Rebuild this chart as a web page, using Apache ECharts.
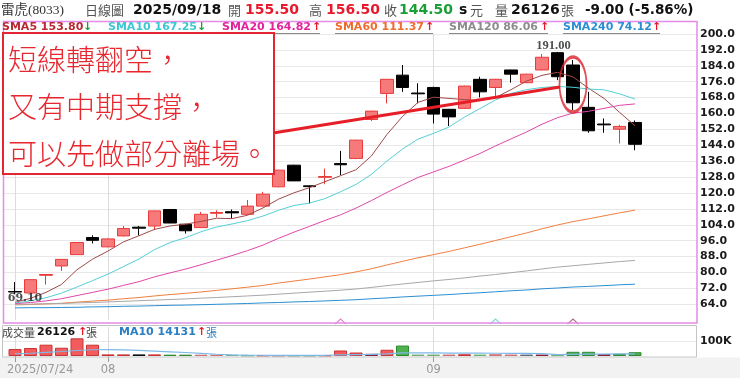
<!DOCTYPE html>
<html>
<head>
<meta charset="utf-8">
<script src="https://cdn.jsdelivr.net/npm/echarts@6.0.0/dist/echarts.min.js"></script>
<style>
  html, body { margin: 0; padding: 0; background: #fff; }
  #chart { width: 740px; height: 378px; }
</style>
</head>
<body>
<div id="chart"></div>
<script>
// trading days shown (last three are empty slots on the right)
const days = ['07/24','07/25','07/28','07/29','07/30','07/31','08/01','08/04','08/05','08/06','08/07','08/08',
  '08/11','08/12','08/13','08/14','08/15','08/18','08/19','08/20','08/21','08/22','08/25','08/26','08/27','08/28',
  '08/29','09/01','09/02','09/03','09/04','09/05','09/08','09/09','09/10','09/11','09/12','09/15','09/16','09/17',
  '09/18','09/19','09/22','09/23'];
const xTickIdx = [0, 6, 27];
const xTickText = ['2025/07/24', '08', '09'];

// daily prices
const open  = [70.4, 69.7, 78.6, 83.3, 89.0, 97.6, 92.9, 98.4, 102.8, 103.4, 111.7, 104.3, 102.6, 109.8, 110.6, 109.3,
  113.4, 123.1, 134.0, 123.6, 127.9, 134.8, 137.4, 157.0, 170.1, 179.3, 170.3, 173.1, 162.1, 162.6, 177.2, 173.1,
  181.9, 175.5, 181.9, 190.6, 184.4, 163.1, 154.7, 152.1, 155.5];
const close = [70.2, 76.4, 79.0, 86.6, 95.1, 96.2, 96.9, 102.1, 102.3, 111.0, 104.9, 101.0, 109.3, 110.2, 110.0, 113.4,
  119.4, 131.5, 126.1, 123.2, 128.3, 134.2, 146.6, 161.2, 177.2, 173.1, 169.9, 159.7, 158.3, 173.8, 170.9, 177.2,
  179.8, 179.8, 188.3, 178.5, 165.4, 151.3, 154.3, 153.5, 144.5];
const low   = [69.1, 69.5, 73.9, 80.8, 88.8, 94.6, 92.7, 98.2, 98.7, 101.3, 104.8, 99.6, 102.4, 107.7, 107.2, 109.0,
  113.2, 122.9, 126.0, 114.7, 124.4, 129.0, 137.0, 156.2, 165.1, 170.9, 165.1, 155.0, 153.7, 162.4, 168.1, 168.4,
  175.5, 175.3, 181.7, 176.8, 161.7, 150.3, 150.3, 144.9, 141.5];
const high  = [75.2, 76.6, 79.2, 86.8, 95.3, 98.7, 97.2, 103.4, 103.4, 111.2, 111.8, 104.5, 110.5, 111.3, 111.7, 116.5,
  120.6, 131.6, 134.2, 123.8, 132.3, 141.2, 146.8, 161.4, 177.3, 184.4, 175.2, 173.5, 162.3, 174.0, 178.5, 177.4,
  182.0, 180.0, 189.9, 191.0, 186.9, 170.9, 157.5, 154.3, 156.5];

// moving averages as drawn
const sma5 = [65.0, 67.0, 70.0, 74.0, 81.4, 86.7, 90.8, 95.4, 98.5, 101.7, 103.4, 104.3, 105.7, 107.3, 107.1, 108.8,
  112.5, 116.9, 120.1, 122.7, 125.7, 128.7, 131.7, 138.7, 149.5, 158.5, 165.6, 168.2, 167.6, 167.0, 166.5, 168.0,
  172.0, 176.3, 179.2, 180.7, 178.4, 172.7, 167.6, 160.6, 153.8];
const sma10 = [64.6, 65.8, 67.3, 69.6, 72.7, 75.9, 79.2, 83.0, 86.8, 91.5, 95.1, 97.5, 100.5, 102.9, 104.4, 106.1,
  108.4, 111.3, 113.7, 114.9, 117.2, 120.6, 124.3, 129.4, 136.1, 142.1, 147.1, 150.0, 153.2, 158.2, 162.5, 166.8,
  170.1, 172.0, 173.1, 173.6, 173.2, 172.3, 171.9, 169.9, 167.25];
const sma20 = [64.3, 64.9, 65.7, 66.8, 68.4, 70.0, 71.6, 73.5, 75.4, 77.8, 79.8, 81.7, 83.9, 86.2, 88.5, 91.0,
  93.8, 97.2, 100.3, 103.2, 106.2, 109.0, 112.4, 116.2, 120.3, 124.1, 127.8, 130.6, 133.4, 136.6, 139.9, 143.7,
  147.2, 150.7, 154.6, 157.9, 160.2, 161.1, 162.6, 164.1, 164.82];
const sma60 = [63.7, 63.9, 64.2, 64.5, 65.1, 65.6, 66.1, 66.8, 67.4, 68.2, 68.9, 69.5, 70.2, 71.0, 71.8, 72.6,
  73.5, 74.7, 75.7, 76.7, 77.8, 78.9, 80.3, 81.9, 83.8, 85.6, 87.4, 89.0, 90.6, 92.4, 94.2, 96.1,
  98.0, 99.9, 102.0, 103.9, 105.6, 107.0, 108.5, 110.0, 111.37];
const sma120 = [64.0, 64.1, 64.3, 64.4, 64.7, 64.9, 65.2, 65.5, 65.8, 66.1, 66.4, 66.7, 67.1, 67.4, 67.8, 68.2,
  68.6, 69.1, 69.6, 70.1, 70.6, 71.1, 71.7, 72.5, 73.4, 74.2, 75.0, 75.8, 76.5, 77.3, 78.2, 79.0,
  79.9, 80.8, 81.8, 82.7, 83.4, 84.1, 84.8, 85.5, 86.06];
const sma240 = [62.2, 62.3, 62.3, 62.4, 62.5, 62.7, 62.8, 63.0, 63.1, 63.3, 63.5, 63.6, 63.8, 64.0, 64.2, 64.4,
  64.7, 64.9, 65.2, 65.4, 65.7, 66.0, 66.3, 66.8, 67.2, 67.7, 68.1, 68.5, 68.9, 69.4, 69.8, 70.3,
  70.8, 71.2, 71.8, 72.2, 72.7, 73.0, 73.4, 73.8, 74.12];

// volume (張) and its 10-day average
const volume = [48000, 55000, 78000, 57000, 122000, 78000, 11000, 11000, 11000, 11000, 9000, 9000, 9000, 9000, 8000,
  3000, 3000, 3000, 3000, 3000, 3000, 38000, 24000, 15000, 43000, 72000, 10000, 10000, 10000, 12000, 10000, 12000,
  10000, 10000, 10000, 5000, 29000, 29000, 13000, 15000, 26126];
const volTone = ['r','r','r','r','r','r','r','r','k','r','g','g','p','p','l','l','r','r','g','g','r','r','r','d','r',
  'g','l','l','p','r','l','p','p','s','d','l','g','g','d','g','g'];
const volMa10 = [15000, 19000, 25000, 31000, 38000, 43000, 44000, 42000, 39000, 34000, 29000, 24000, 18000, 12000, 8000,
  6000, 5000, 5000, 5000, 5000, 5000, 8000, 10000, 11000, 15000, 21000, 21000, 21000, 20000, 20000, 20000, 19000,
  18000, 18000, 17000, 9000, 11000, 13000, 13000, 14000, 14131];

// annotation: trend line (index, price) pairs, circled candle, signal marks
const trendLine = [[16.65, 150.2], [35.16, 173.3]];
const circled = [36, 174.6];
const signalIdx = [21, 31, 36];
const noteLines = ['短線轉翻空，', '又有中期支撐，', '可以先做部分離場。'];

const RED = '#e8192c';
const GREEN = '#1a9e36';
const toneStyle = {
  r: { color: '#f25c5c', borderColor: '#c93434' },
  g: { color: '#4fb04f', borderColor: '#2f8a2f' },
  k: { color: '#3a3a3a', borderColor: '#111' },
  d: { color: '#b0304a', borderColor: '#8a2038' },
  s: { color: '#8898a8', borderColor: '#607080' },
  p: { color: '#f0a0a0', borderColor: '#d07070' },
  l: { color: '#9ad09a', borderColor: '#70b070' }
};

const isTick = (i) => xTickIdx.includes(i);
const last = (a) => a[a.length - 1];

const maDefs = [
  { name: 'SMA5', data: sma5, color: '#a04a4a', text: '#b8292f', x: 2 },
  { name: 'SMA10', data: sma10, color: '#55d0d8', text: '#3cc8d2', x: 108 },
  { name: 'SMA20', data: sma20, color: '#e048aa', text: '#e0249a', x: 222 },
  { name: 'SMA60', data: sma60, color: '#f08040', text: '#ef6c2c', x: 335 },
  { name: 'SMA120', data: sma120, color: '#a8a8a8', text: '#8c8c8c', x: 449 },
  { name: 'SMA240', data: sma240, color: '#2b8fd4', text: '#2b8fd4', x: 563 }
];

const chart = echarts.init(document.getElementById('chart'));

const hiIdx = high.indexOf(Math.max(...high));
const loIdx = low.indexOf(Math.min(...low));

const txt = (x, y, text, font, fill, z) => ({
  type: 'text', x, y, z: z || 100,
  style: { text, font, fill, textVerticalAlign: 'middle' }
});

const CJK = "'Noto Sans CJK TC'";
const DV = "'DejaVu Sans'";
const graphics = [
  { type: 'rect', z: -10, shape: { x: 0, y: 357.5, width: 740, height: 21 }, style: { fill: '#f2f2f2' } },
  { type: 'rect', z: 50, shape: { x: 3.5, y: 21.5, width: 693.5, height: 301.5 }, style: { fill: 'none', stroke: '#e48ce6', lineWidth: 1.5 } },
  { type: 'rect', z: 50, shape: { x: 2.5, y: 325.5, width: 694, height: 31.5 }, style: { fill: 'none', stroke: '#c4c4c4', lineWidth: 1 } },
  // header
  txt(1, 10, '雷虎(8033)', "13.5px 'Liberation Serif', " + CJK, '#333'),
  txt(85, 10, '日線圖', '13px ' + CJK, '#555'),
  txt(133, 10, '2025/09/18', 'bold 14px ' + DV, '#111'),
  txt(228, 10, '開', '13px ' + CJK, '#555'),
  txt(245, 10, open[open.length - 1].toFixed(2), 'bold 14px ' + DV, RED),
  txt(309, 10, '高', '13px ' + CJK, '#555'),
  txt(326, 10, last(high).toFixed(2), 'bold 14px ' + DV, RED),
  txt(384, 10, '收', '13px ' + CJK, '#555'),
  txt(399, 10, last(close).toFixed(2), 'bold 14px ' + DV, GREEN),
  txt(459, 10, 's', 'bold 14px ' + DV, '#111'),
  txt(470, 10, '元', '13px ' + CJK, '#555'),
  txt(495, 10, '量', '13px ' + CJK, '#555'),
  txt(511, 10, String(last(volume)), 'bold 14px ' + DV, '#111'),
  txt(561, 10, '張', '13px ' + CJK, '#555'),
  txt(585, 10, (last(close) - close[close.length - 2]).toFixed(2) + ' (' +
    ((last(close) - close[close.length - 2]) / close[close.length - 2] * 100).toFixed(2) + '%)', 'bold 13.5px ' + DV, '#111'),
  // volume header
  txt(2, 332.5, '成交量', '11px ' + CJK, '#444'),
  txt(37, 332.5, String(last(volume)), 'bold 11px ' + DV, '#111'),
  txt(78, 332.5, '↑', 'bold 11px ' + DV, RED),
  txt(86, 332.5, '張', '11px ' + CJK, '#444'),
  txt(119, 332.5, 'MA10 ' + last(volMa10), 'bold 11px ' + DV, '#2a7fc4'),
  txt(197, 332.5, '↑', 'bold 11px ' + DV, RED),
  txt(206, 332.5, '張', '11px ' + CJK, '#2a7fc4'),
  // note box
  { type: 'rect', z: 120, shape: { x: 3, y: 33, width: 271, height: 141 }, style: { fill: '#fff', stroke: '#e32632', lineWidth: 2 } }
];
noteLines.forEach((s, i) => {
  graphics.push(txt(8, 60 + i * 47, s, '300 29px ' + CJK, '#e8262e', 130));
});
maDefs.forEach((m) => {
  const v = last(m.data);
  const prev = m.data[m.data.length - 2];
  const label = m.name + ' ' + v.toFixed(2);
  const w = echarts.format.getTextRect ? 0 : 0;
  graphics.push(txt(m.x, 27.5, label, 'bold 11px ' + DV, m.text));
});

const arrowX = [83, 197, 312, 425, 540, 652];
maDefs.forEach((m, i) => {
  const up = last(m.data) >= m.data[m.data.length - 2];
  graphics.push(txt(arrowX[i], 27.5, up ? '↑' : '↓', 'bold 11px ' + DV, up ? RED : GREEN));
  graphics.push({ type: 'line', z: 100, shape: { x1: m.x, y1: 33.5, x2: arrowX[i] + 8, y2: 33.5 }, style: { stroke: '#8a8a8a', lineWidth: 1 } });
});

const gridCommon = { outerBoundsMode: 'none', containLabel: false };

const option = {
  animation: false,
  backgroundColor: '#fff',
  grid: [
    { ...gridCommon, left: 15, right: 58.5, top: 34, height: 286.2 },
    { ...gridCommon, left: 15, right: 58.5, top: 327, height: 29 },
    { ...gridCommon, left: 3.5, right: 43, top: 34, height: 286.2 },
    { ...gridCommon, left: 2.5, right: 43, top: 327, height: 29 }
  ],
  xAxis: [
    {
      type: 'category', gridIndex: 0, data: days, boundaryGap: false,
      axisLine: { show: false }, axisTick: { show: false }, axisLabel: { show: false },
      splitLine: { show: true, interval: isTick, lineStyle: { color: '#dcdcdc' } }
    },
    {
      type: 'category', gridIndex: 1, data: days, boundaryGap: false,
      axisLine: { show: false },
      axisTick: { show: true, interval: isTick, length: 6, lineStyle: { color: '#999' } },
      axisLabel: {
        interval: isTick, margin: 8, color: '#999', fontSize: 11.5, fontFamily: 'DejaVu Sans',
        formatter: (v, i) => {
          const k = xTickIdx.indexOf(i);
          if (k < 0) return '';
          return k === 0 ? '{a|' + xTickText[k] + '}' : xTickText[k];
        },
        rich: { a: { width: 16, align: 'left', color: '#999', fontSize: 11.5, fontFamily: 'DejaVu Sans' } }
      },
      splitLine: { show: true, interval: isTick, lineStyle: { color: '#dcdcdc' } }
    },
    { type: 'value', gridIndex: 0, min: 0, max: days.length - 1, show: false },
    { type: 'value', gridIndex: 2, min: 0, max: 1, show: false },
    { type: 'value', gridIndex: 3, min: 0, max: 1, show: false }
  ],
  yAxis: [
    { type: 'value', gridIndex: 0, min: 56, max: 200, show: false },
    { type: 'value', gridIndex: 1, min: 0, max: 200000, show: false },
    {
      type: 'value', gridIndex: 2, position: 'right', min: 56, max: 200, interval: 8,
      axisLine: { show: false }, axisTick: { show: false },
      axisLabel: {
        margin: 3, color: '#1a1a1a', fontWeight: 'bold', fontSize: 11, fontFamily: 'DejaVu Sans',
        formatter: (v) => (v === 56 ? '' : v.toFixed(1))
      },
      splitLine: { show: true, showMinLine: false, lineStyle: { color: '#e8e8e8' } }
    },
    {
      type: 'value', gridIndex: 3, position: 'right', min: 0, max: 200000, interval: 100000,
      axisLine: { show: false }, axisTick: { show: false },
      axisLabel: {
        margin: 3, color: '#1a1a1a', fontWeight: 'bold', fontSize: 11, fontFamily: 'DejaVu Sans',
        formatter: (v) => (v === 100000 ? '100K' : '')
      },
      splitLine: { show: true, showMinLine: false, showMaxLine: false, lineStyle: { color: '#e8e8e8' } }
    }
  ],
  series: [
    {
      type: 'candlestick', xAxisIndex: 0, yAxisIndex: 0, barWidth: 13, clip: false, z: 3,
      data: open.map((o, i) => [o, close[i], low[i], high[i]]),
      itemStyle: { color: '#f77a7a', color0: '#000', borderColor: '#ea3a3a', borderColor0: '#000', borderWidth: 1 }
    },
    ...maDefs.map((m) => ({
      type: 'line', name: m.name, xAxisIndex: 0, yAxisIndex: 0, data: m.data, symbol: 'none', z: 4,
      lineStyle: { color: m.color, width: 1 }
    })),
    {
      type: 'scatter', xAxisIndex: 0, yAxisIndex: 0, symbolSize: 0, clip: false, z: 6,
      data: [
        { value: [hiIdx, high[hiIdx]], label: { position: 'top', distance: 0, offset: [-4, 0] } },
        { value: [loIdx, low[loIdx]], label: { position: 'bottom', distance: 0, offset: [10, -2],
          fontFamily: 'DejaVu Serif', fontSize: 11 } }
      ],
      label: {
        show: true, color: '#222', fontWeight: 'bold', fontSize: 12.5, fontFamily: 'Liberation Serif',
        formatter: (p) => (p.dataIndex === 0 ? high[hiIdx] : low[loIdx]).toFixed(2)
      }
    },
    {
      type: 'line', xAxisIndex: 2, yAxisIndex: 0, data: trendLine, symbol: 'none', z: 7,
      lineStyle: { color: '#e61e28', width: 3 }
    },
    {
      type: 'scatter', xAxisIndex: 0, yAxisIndex: 0, data: [circled], symbol: 'circle', symbolSize: [27, 55], z: 8,
      itemStyle: { color: 'rgba(0,0,0,0)', borderColor: '#d8232a', borderWidth: 2.5 }
    },
    {
      type: 'scatter', xAxisIndex: 0, yAxisIndex: 0, clip: false, z: 8,
      symbol: 'path://M0,5 L5,0 L10,5', symbolSize: [11, 5],
      data: signalIdx.map((i, k) => ({
        value: [i, 55.3],
        itemStyle: { color: 'rgba(0,0,0,0)', borderColor: ['#e060c0', '#60d0d0', '#a04070'][k], borderWidth: 1 }
      }))
    },
    {
      type: 'bar', xAxisIndex: 1, yAxisIndex: 1, barWidth: 13, clip: false, z: 3,
      data: volume.map((v, i) => ({ value: v, itemStyle: { ...toneStyle[volTone[i]], borderWidth: 1 } }))
    },
    {
      type: 'line', xAxisIndex: 1, yAxisIndex: 1, data: volMa10, symbol: 'none', z: 4,
      lineStyle: { color: '#7db9e8', width: 1.2 }
    }
  ],
  graphic: graphics
};

chart.setOption(option);
</script>
</body>
</html>
